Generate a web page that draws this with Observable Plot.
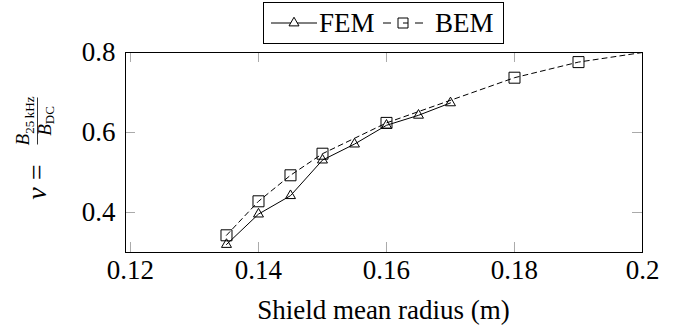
<!DOCTYPE html>
<html><head><meta charset="utf-8">
<script src="https://cdn.jsdelivr.net/npm/d3@7"></script>
<script src="https://cdn.jsdelivr.net/npm/@observablehq/plot@0.6"></script>
<style>body{margin:0;background:#fff} svg text{font-family:'Liberation Serif','Times New Roman',Times,serif !important}</style>
</head><body><div id="chart"></div>
<script>
const femRadius = [0.135, 0.14, 0.145, 0.15, 0.155, 0.16, 0.165, 0.17];
const femNu     = [0.320, 0.396, 0.442, 0.531, 0.571, 0.618, 0.643, 0.674];
const bemRadius = [0.135, 0.14, 0.145, 0.15, 0.16, 0.18, 0.19, 0.20];
const bemNu     = [0.343, 0.428, 0.493, 0.547, 0.624, 0.737, 0.776, 0.800];
const xTicks = [0.12, 0.14, 0.16, 0.18, 0.2];
const xTickLabels = ["0.12", "0.14", "0.16", "0.18", "0.2"];
const yTicks = [0.4, 0.6, 0.8];
const yTickLabels = ["0.4", "0.6", "0.8"];
const seriesNames = ["FEM", "BEM"];
const xLabel = "Shield mean radius (m)";

const FF = "'Liberation Serif', 'Times New Roman', Times, serif";
const W = 686, H = 330, mL = 125, mR = 44, mT = 52, mB = 78;
const fw = W - mL - mR, fh = H - mT - mB, tl = 10;
const fem = femRadius.map((x, i) => ({x, y: femNu[i]}));
const bem = bemRadius.map((x, i) => ({x, y: bemNu[i]}));
const bemMarks = bem.filter(d => d.x < 0.2);

const chart = Plot.plot({
  width: W, height: H, marginLeft: mL, marginRight: mR, marginTop: mT, marginBottom: mB,
  x: {domain: [0.11922, 0.2]},
  y: {domain: [0.3, 0.8]},
  style: {fontFamily: FF, fontSize: "27px", background: "white", color: "black", overflow: "visible"},
  marks: [
    Plot.tickX(xTicks, {x: d => d, insetTop: fh - tl, stroke: "#aaa"}),
    Plot.tickX(xTicks, {x: d => d, insetBottom: fh - tl, stroke: "#aaa"}),
    Plot.tickY(yTicks, {y: d => d, insetRight: fw - tl, stroke: "#aaa"}),
    Plot.tickY(yTicks, {y: d => d, insetLeft: fw - tl, stroke: "#aaa"}),
    Plot.axisX(xTicks, {anchor: "bottom", tickSize: 0, tickPadding: 7, label: null,
      tickFormat: d => xTickLabels[xTicks.indexOf(d)], fontSize: 27, fontVariant: "normal"}),
    Plot.axisY(yTicks, {anchor: "left", tickSize: 0, tickPadding: 10, label: null,
      tickFormat: d => yTickLabels[yTicks.indexOf(d)], fontSize: 27, fontVariant: "normal"}),
    Plot.line(fem, {x: "x", y: "y", stroke: "black", strokeWidth: 1}),
    Plot.line(bem, {x: "x", y: "y", stroke: "black", strokeWidth: 1, strokeDasharray: "5,4"}),
    Plot.dot(fem, {x: "x", y: "y", symbol: "triangle", r: 3.7, stroke: "black", fill: "none", strokeWidth: 1}),
    Plot.dot(bemMarks, {x: "x", y: "y", symbol: "square", r: 6.2, stroke: "black", fill: "none", strokeWidth: 1}),
    Plot.frame({stroke: "black", strokeWidth: 1})
  ]
});
document.getElementById("chart").appendChild(chart);

const svg = d3.select(chart);
// x label
svg.append("text").attr("x", mL + fw / 2).attr("y", 319).attr("text-anchor", "middle")
  .attr("font-size", 27).attr("fill", "black").text(xLabel);

// y label (rotated)
const g = svg.append("g").attr("transform", "translate(46,152.5) rotate(-90)").attr("fill", "black");
const t1 = g.append("text").attr("x", -12).attr("y", 0).attr("text-anchor", "end").attr("font-size", 28);
t1.append("tspan").attr("font-style", "italic").text("ν");
t1.append("tspan").text(" =");
const num = g.append("text").attr("x", 31.5).attr("y", -17).attr("text-anchor", "middle").attr("font-size", 19);
num.append("tspan").attr("font-style", "italic").text("B");
num.append("tspan").attr("font-size", 13).attr("dy", 5).text("25\u2009kHz");
g.append("line").attr("x1", 8).attr("x2", 55).attr("y1", -8.5).attr("y2", -8.5).attr("stroke", "black").attr("stroke-width", 0.8);
const den = g.append("text").attr("x", 31.5).attr("y", 5).attr("text-anchor", "middle").attr("font-size", 19);
den.append("tspan").attr("font-style", "italic").text("B");
den.append("tspan").attr("font-size", 13).attr("dy", 3).text("DC");

// legend
const lg = svg.append("g");
lg.append("rect").attr("x", 263.5).attr("y", 2.5).attr("width", 240).attr("height", 41)
  .attr("fill", "white").attr("stroke", "black").attr("stroke-width", 1);
const ly = 23;
lg.append("line").attr("x1", 271).attr("x2", 317).attr("y1", ly).attr("y2", ly).attr("stroke", "black");
lg.append("path").attr("d", d3.symbol(d3.symbolTriangle, Math.PI * 3.7 * 3.7)()).attr("transform", `translate(294,${ly})`)
  .attr("fill", "white").attr("stroke", "black");
lg.append("text").attr("x", 319).attr("y", 32).attr("text-anchor", "start").attr("font-size", 27).attr("fill", "black").text(seriesNames[0]);
lg.append("line").attr("x1", 383).attr("x2", 423).attr("y1", ly).attr("y2", ly).attr("stroke", "black").attr("stroke-dasharray", "8,24,8");
lg.append("path").attr("d", d3.symbol(d3.symbolSquare, 100)()).attr("transform", `translate(403,${ly})`)
  .attr("fill", "none").attr("stroke", "black");
lg.append("line").attr("x1", 403).attr("x2", 408).attr("y1", ly).attr("y2", ly).attr("stroke", "black");
lg.append("text").attr("x", 435).attr("y", 32).attr("text-anchor", "start").attr("font-size", 27).attr("fill", "black").text(seriesNames[1]);
</script>
</body></html>
